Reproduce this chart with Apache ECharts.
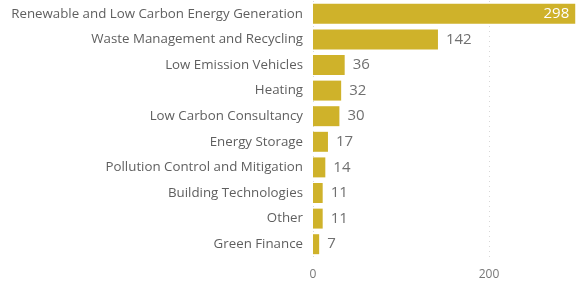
<!DOCTYPE html>
<html>
<head>
<meta charset="utf-8">
<script src="https://cdn.jsdelivr.net/npm/echarts@6/dist/echarts.min.js"></script>
<style>
  html, body, #main {width:580px;height:285px;margin:0;overflow:hidden;background:#fff;}
</style>
</head>
<body>
<div id="main"></div>
<script>
var categories = ['Renewable and Low Carbon Energy Generation', 'Waste Management and Recycling',
  'Low Emission Vehicles', 'Heating', 'Low Carbon Consultancy', 'Energy Storage',
  'Pollution Control and Mitigation', 'Building Technologies', 'Other', 'Green Finance'];
var counts = [298, 142, 36, 32, 30, 17, 14, 11, 11, 7];
var xTicks = [0, 200];

var chart = echarts.init(document.getElementById('main'));
chart.setOption({
  animation: false,
  textStyle: {fontFamily: 'Open Sans'},
  grid: {left: 313, right: 0, top: 1, bottom: 28},
  xAxis: {
    type: 'value', min: 0, max: 300, interval: 200,
    axisLine: {show: false}, axisTick: {show: false},
    splitLine: {show: true, showMaxLine: false, lineStyle: {color: '#d8d8d8', type: [1, 4]}},
    axisLabel: {
      color: '#777', fontSize: 12, margin: 12,
      formatter: function (v) { return xTicks.indexOf(v) >= 0 ? String(v) : ''; }
    }
  },
  yAxis: {
    type: 'category', data: categories, inverse: true,
    axisLine: {show: false}, axisTick: {show: false},
    axisLabel: {color: '#5f5f5f', fontSize: 13.3, margin: 10}
  },
  series: [{
    type: 'bar', barCategoryGap: '22%',
    itemStyle: {color: '#CFB22A'},
    label: {show: true, position: 'right', fontSize: 15, color: '#707070', distance: 8},
    data: counts.map(function (v, i) {
      // the longest bar carries its label inside, in white
      return i === 0 ? {value: v, label: {position: 'insideRight', color: '#fff', distance: 6}} : v;
    })
  }]
});
</script>
</body>
</html>
